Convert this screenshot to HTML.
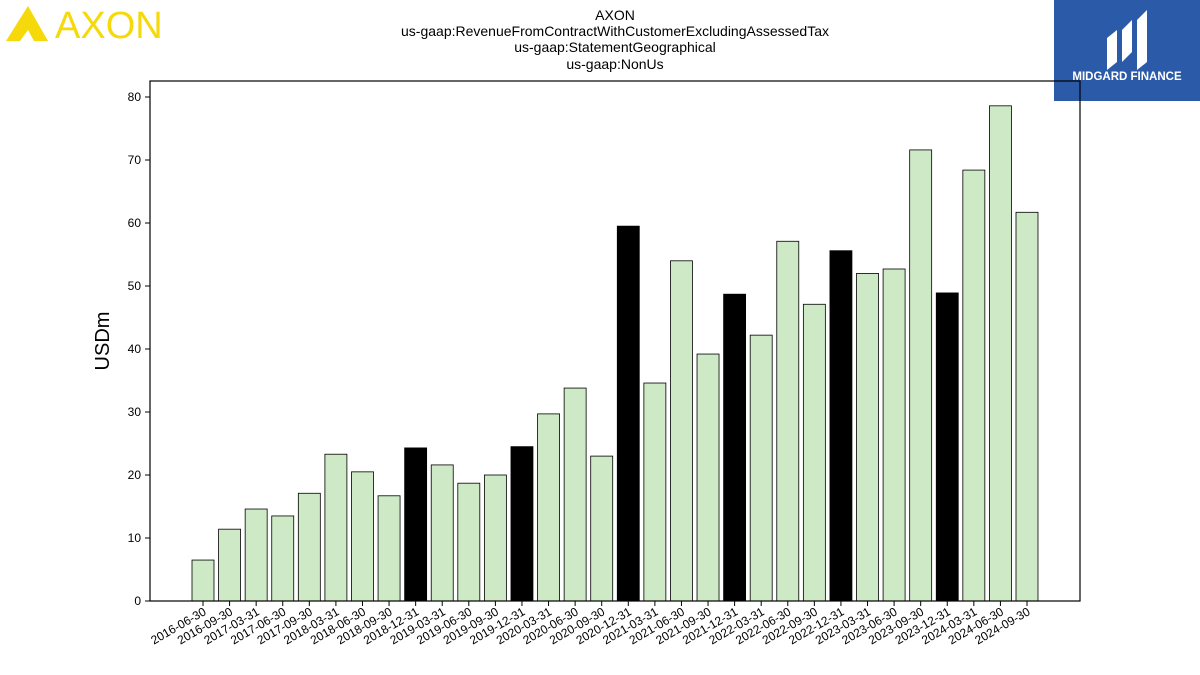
<!DOCTYPE html>
<html><head><meta charset="utf-8"><style>
body{margin:0;background:#fff;font-family:"Liberation Sans","DejaVu Sans",sans-serif}
#wrap{position:relative;width:1200px;height:675px;overflow:hidden}
</style></head><body><div id="wrap">
<svg id="svg" width="1200" height="675" xmlns="http://www.w3.org/2000/svg">
<g>
<polygon points="6,41 28,6 48,41 34,41 28,30 20,41" fill="#f5d90a"/>
<text x="55" y="38" font-size="38" fill="#f5d90a" font-family="Liberation Sans,sans-serif" font-weight="300">AXON</text>
</g>
<g>
<rect x="1054" y="0" width="146" height="101" fill="#2b5aa8"/>
<path d="M1107,70 L1107,38 L1117,30 L1117,62 Z M1122,62 L1122,30 L1132,20 L1132,52 Z M1137,70 L1137,20 L1147,10 L1147,62 Z" fill="#fff"/>
<text x="1127" y="80" font-size="11.5" fill="#fff" font-weight="bold" text-anchor="middle">MIDGARD FINANCE</text>
</g>
<g font-size="14" text-anchor="middle" fill="#000">
<text x="615" y="20">AXON</text>
<text x="615" y="36">us-gaap:RevenueFromContractWithCustomerExcludingAssessedTax</text>
<text x="615" y="52">us-gaap:StatementGeographical</text>
<text x="615" y="69">us-gaap:NonUs</text>
</g>
<g id="bars"></g><g id="axes"></g>
<text x="0" y="0" font-size="20" text-anchor="middle" transform="translate(109,341) rotate(-90)">USDm</text>
</svg></div>
<script>
const categories=["2016-06-30","2016-09-30","2017-03-31","2017-06-30","2017-09-30","2018-03-31","2018-06-30","2018-09-30","2018-12-31","2019-03-31","2019-06-30","2019-09-30","2019-12-31","2020-03-31","2020-06-30","2020-09-30","2020-12-31","2021-03-31","2021-06-30","2021-09-30","2021-12-31","2022-03-31","2022-06-30","2022-09-30","2022-12-31","2023-03-31","2023-06-30","2023-09-30","2023-12-31","2024-03-31","2024-06-30","2024-09-30"];
const values=[6.5,11.4,14.6,13.5,17.1,23.3,20.5,16.7,24.3,21.6,18.7,20.0,24.5,29.7,33.8,23.0,59.5,34.6,54.0,39.2,48.7,42.2,57.1,47.1,55.6,52.0,52.7,71.6,48.9,68.4,78.6,61.7];
const yTicks=[0,10,20,30,40,50,60,70,80];
const NS="http://www.w3.org/2000/svg";
const L=150,R=1080,T=81,B=601;
const y=v=>B-v*(B-97)/80;
const x=i=>203+i*(1027-203)/(categories.length-1);
const bars=document.getElementById('bars'),axes=document.getElementById('axes');
categories.forEach((c,i)=>{
 const r=document.createElementNS(NS,'rect');
 
 
 r.setAttribute('x',x(i)-11);r.setAttribute('width',22);
 r.setAttribute('y',y(values[i]));r.setAttribute('height',B-y(values[i]));
 r.setAttribute('fill',c.endsWith('12-31')?'#000':'#cde9c5');
 r.setAttribute('stroke','#000');r.setAttribute('stroke-width','0.8');
 bars.appendChild(r);
 const t=document.createElementNS(NS,'line');
 
 
 t.setAttribute('x1',x(i));t.setAttribute('x2',x(i));t.setAttribute('y1',B);t.setAttribute('y2',B+5);t.setAttribute('stroke','#000');
 axes.appendChild(t);
 const lb=document.createElementNS(NS,'text');
 
 
 lb.setAttribute('font-size','12');lb.setAttribute('text-anchor','end');
 lb.setAttribute('transform','translate('+(x(i)+4)+','+(B+13)+') rotate(-30)');
 lb.textContent=c;axes.appendChild(lb);
});
yTicks.forEach(v=>{
 const t=document.createElementNS(NS,'line');
 
 
 t.setAttribute('x1',L-5);t.setAttribute('x2',L);t.setAttribute('y1',y(v));t.setAttribute('y2',y(v));t.setAttribute('stroke','#000');
 axes.appendChild(t);
 const lb=document.createElementNS(NS,'text');
 
 
 lb.setAttribute('font-size','12');lb.setAttribute('text-anchor','end');
 lb.setAttribute('x',L-9);lb.setAttribute('y',y(v)+4);lb.textContent=v;axes.appendChild(lb);
});
const fr=document.createElementNS(NS,'rect');


fr.setAttribute('x',L);fr.setAttribute('y',T);fr.setAttribute('width',R-L);fr.setAttribute('height',B-T);
fr.setAttribute('fill','none');fr.setAttribute('stroke','#000');fr.setAttribute('stroke-width','1.2');
axes.appendChild(fr);
</script></body></html>
